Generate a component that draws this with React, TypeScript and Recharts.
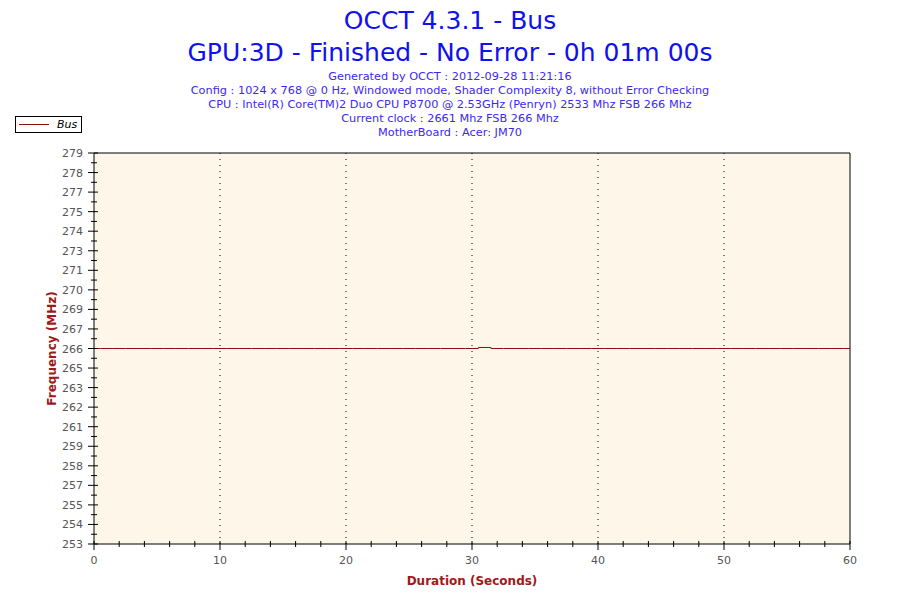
import { LineChart, Line, XAxis, YAxis, CartesianGrid, ReferenceLine, Label } from 'recharts'

const seconds = [
  0, 1, 2, 3, 4, 5, 6, 7, 8, 9, 10, 11, 12, 13, 14, 15, 16, 17, 18, 19, 20,
  21, 22, 23, 24, 25, 26, 27, 28, 29, 30, 31, 32, 33, 34, 35, 36, 37, 38, 39, 40,
  41, 42, 43, 44, 45, 46, 47, 48, 49, 50, 51, 52, 53, 54, 55, 56, 57, 58, 59, 60,
]
const busMhz = [
  266, 266, 266, 266, 266, 266, 266, 266, 266, 266, 266, 266, 266, 266, 266, 266, 266, 266, 266, 266, 266,
  266, 266, 266, 266, 266, 266, 266, 266, 266, 266, 266.07, 266, 266, 266, 266, 266, 266, 266, 266, 266,
  266, 266, 266, 266, 266, 266, 266, 266, 266, 266, 266, 266, 266, 266, 266, 266, 266, 266, 266, 266,
]

const xMajorTicks = [0, 10, 20, 30, 40, 50, 60]
const xTicks = [0, 2, 4, 6, 8, 10, 12, 14, 16, 18, 20, 22, 24, 26, 28, 30, 32, 34, 36, 38, 40, 42, 44, 46, 48, 50, 52, 54, 56, 58, 60]
const xGridLines = [10, 20, 30, 40, 50]

const yMajorTicks = [
  252.7, 254.03, 255.36, 256.69, 258.02, 259.35, 260.68, 262.01, 263.34, 264.67, 266,
  267.33, 268.66, 269.99, 271.32, 272.65, 273.98, 275.31, 276.64, 277.97, 279.3,
]

const titleLines = ['OCCT 4.3.1 - Bus', 'GPU:3D - Finished - No Error - 0h 01m 00s']
const infoLines = [
  'Generated by OCCT : 2012-09-28 11:21:16',
  'Config : 1024 x 768 @ 0 Hz, Windowed mode, Shader Complexity 8, without Error Checking',
  'CPU : Intel(R) Core(TM)2 Duo CPU P8700 @ 2.53GHz (Penryn) 2533 Mhz FSB 266 Mhz',
  'Current clock : 2661 Mhz FSB 266 Mhz',
  'MotherBoard : Acer: JM70',
]

const data = seconds.map((s, i) => ({ t: s, bus: busMhz[i] }))

// minor y ticks sit halfway between the labelled ones
const yTicks: number[] = []
yMajorTicks.forEach((v, i) => {
  yTicks.push(v)
  if (i < yMajorTicks.length - 1) yTicks.push((v + yMajorTicks[i + 1]) / 2)
})

const FONT = 'Tahoma, "DejaVu Sans", sans-serif'
const LINE_COLOR = '#8e0f0f'

function XTick(props: any) {
  const { x, y, payload } = props
  const major = xMajorTicks.includes(payload.value)
  return (
    <g>
      <line x1={x} x2={x} y1={y - 3} y2={y + (major ? 6 : 3)} stroke="#000" />
      {major && (
        <text x={x} y={y + 20} textAnchor="middle" fontSize={11} fill="#555" fontFamily={FONT}>
          {payload.value}
        </text>
      )}
    </g>
  )
}

function YTick(props: any) {
  const { x, y, payload } = props
  const major = yMajorTicks.includes(payload.value)
  return (
    <g>
      <line x1={x - (major ? 6 : 3)} x2={x + (major ? 4 : 3)} y1={y} y2={y} stroke="#000" />
      {major && (
        <text x={x - 11} y={y + 4} textAnchor="end" fontSize={11} fill="#555" fontFamily={FONT}>
          {Math.round(payload.value)}
        </text>
      )}
    </g>
  )
}

function LegendBox() {
  return (
    <div
      style={{
        position: 'absolute',
        top: 116,
        left: 15,
        width: 65,
        height: 15,
        border: '1px solid #000',
        background: '#fff',
        display: 'flex',
        alignItems: 'center',
        fontFamily: FONT,
        fontSize: 11,
        fontStyle: 'italic',
      }}
    >
      <span style={{ display: 'inline-block', width: 30, height: 1, background: LINE_COLOR, margin: '0 8px 0 3px' }} />
      Bus
    </div>
  )
}

export default function App() {
  return (
    <div style={{ position: 'absolute', left: 0, top: 0, width: 900, height: 600, background: '#fff' }}>
      <LineChart width={900} height={600} data={data} margin={{ top: 153, right: 50, bottom: 26, left: 44 }}>
        <CartesianGrid horizontal={false} vertical={false} fill="#fef7e9" />
        {xGridLines.map((g) => (
          <ReferenceLine key={g} x={g} stroke="#000" strokeDasharray="1 5" />
        ))}
        <ReferenceLine x={60} stroke="#000" />
        <ReferenceLine y={279.3} stroke="#000" />
        <XAxis
          dataKey="t"
          type="number"
          domain={[0, 60]}
          ticks={xTicks}
          interval={0}
          height={30}
          tickLine={false}
          tickSize={0}
          tickMargin={0}
          tick={<XTick />}
          stroke="#000"
        >
          <Label value="Duration (Seconds)" position="bottom" offset={2} fill="#a01818" fontWeight="bold" fontSize={12} fontFamily={FONT} />
        </XAxis>
        <YAxis
          type="number"
          domain={[252.7, 279.3]}
          ticks={yTicks}
          interval={0}
          width={50}
          tickLine={false}
          tickSize={0}
          tickMargin={0}
          tick={<YTick />}
          stroke="#000"
        >
          <Label value="Frequency (MHz)" angle={-90} position="insideLeft" offset={8} fill="#a01818" fontWeight="bold" fontSize={12} fontFamily={FONT} style={{ textAnchor: 'middle' }} />
        </YAxis>
        <Line type="step" dataKey="bus" name="Bus" stroke={LINE_COLOR} strokeWidth={1} dot={false} isAnimationActive={false} />
      </LineChart>
      <div style={{ position: 'absolute', top: 5, left: 0, width: 900, textAlign: 'center', fontFamily: FONT, color: '#1010f0' }}>
        {titleLines.map((t) => (
          <div key={t} style={{ fontSize: 25, lineHeight: '32px' }}>{t}</div>
        ))}
      </div>
      <div style={{ position: 'absolute', top: 70, left: 0, width: 900, textAlign: 'center', fontFamily: FONT, color: '#3c28f0' }}>
        {infoLines.map((t) => (
          <div key={t} style={{ fontSize: 11.3, lineHeight: '14px' }}>{t}</div>
        ))}
      </div>
      <LegendBox />
    </div>
  )
}
